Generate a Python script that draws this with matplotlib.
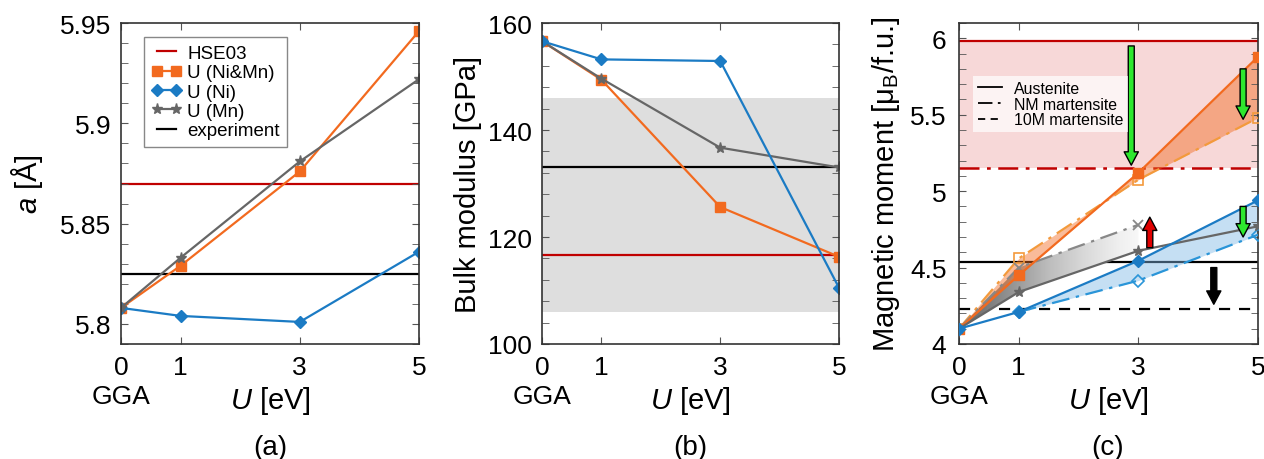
import numpy as np
import matplotlib
matplotlib.use('Agg')
from matplotlib import pyplot as plt
from matplotlib.ticker import MultipleLocator

plt.rcParams['font.family'] = ['Liberation Sans', 'DejaVu Sans']
plt.rcParams['mathtext.fontset'] = 'custom'
plt.rcParams['mathtext.rm'] = 'Liberation Sans'
plt.rcParams['mathtext.it'] = 'Liberation Sans:italic'

# U values [eV]
u = [0, 1, 3, 5]
u_tick_labels = ['0', '1', '3', '5']

# (a) lattice constant [A]
lat_nimn = [5.808, 5.829, 5.876, 5.946]
lat_ni = [5.808, 5.804, 5.801, 5.836]
lat_mn = [5.808, 5.833, 5.881, 5.922]
lat_hse = 5.870
lat_exp = 5.825

# (b) bulk modulus [GPa]
bulk_nimn = [156.6, 149.4, 125.6, 116.3]
bulk_ni = [156.6, 153.2, 152.9, 110.5]
bulk_mn = [156.6, 149.6, 136.7, 133.0]
bulk_hse = 116.7
bulk_exp = 133.0
bulk_exp_band = [106.0, 146.0]

# (c) magnetic moment [muB/f.u.]
mag_nimn_aus = [4.10, 4.45, 5.12, 5.88]
mag_nimn_nm = [4.10, 4.56, 5.075, 5.48]
mag_ni_aus = [4.10, 4.21, 4.545, 4.94]
u_ni_nm = [1, 3, 5]
mag_ni_nm = [4.21, 4.415, 4.715]
mag_mn_aus = [4.10, 4.34, 4.61, 4.77]
u_mn_nm = [0, 1, 3]
mag_mn_nm = [4.10, 4.50, 4.78]
mag_hse_aus = 5.98
mag_hse_nm = 5.15
mag_exp_aus = 4.535
mag_exp_10m = 4.23

# arrows in (c): x, y_start, y_end, colour
arrows = [
    (2.88, 5.95, 5.17, '#2ee82e'),
    (4.75, 5.80, 5.47, '#2ee82e'),
    (4.75, 4.90, 4.70, '#2ee82e'),
    (3.19, 4.63, 4.83, '#e00000'),
    (4.26, 4.50, 4.26, 'black'),
]

ORANGE = '#f26a1f'
ORANGE_NM = '#f39a3c'
BLUE = '#1b7bc4'
BLUE_NM = '#2a95d8'
GRAY = '#666666'
RED = '#c00000'

FS = 19       # tick labels
FS_LAB = 21   # axis labels
DASHDOT = (0, (8, 3, 1.5, 3))


def style_axes(ax, ylim, major, minor):
    ax.set_xlim(0, 5)
    ax.set_ylim(*ylim)
    ax.set_xticks(u)
    ax.set_xticklabels(u_tick_labels)
    ax.yaxis.set_major_locator(MultipleLocator(major))
    ax.yaxis.set_minor_locator(MultipleLocator(minor))
    ax.tick_params(which='both', direction='in', top=True, right=True,
                   labelsize=FS, color='#555555', length=5)
    ax.tick_params(axis='x', pad=8)
    ax.tick_params(axis='y', pad=7)
    for sp in ax.spines.values():
        sp.set_linewidth(1.2)
        sp.set_color('#333333')
    ax.set_xlabel('$U$ [eV]', fontsize=FS_LAB)
    ax.xaxis.set_label_coords(0.5, -0.125)
    # "GGA" sits under the U = 0 tick
    ax.text(0, -0.125, 'GGA', fontsize=FS, ha='center', va='top',
            transform=ax.get_xaxis_transform())


fig = plt.figure(figsize=(12.64, 4.6), dpi=100)
ax_a = fig.add_axes([0.0957, 0.25, 0.2358, 0.6978])
ax_b = fig.add_axes([0.4288, 0.25, 0.2350, 0.6978])
ax_c = fig.add_axes([0.7587, 0.25, 0.2366, 0.6978])

# ---- (a) lattice constant
ax_a.axhline(lat_hse, color=RED, lw=1.6, label='HSE03', zorder=1)
ax_a.plot(u, lat_nimn, color=ORANGE, lw=1.6, marker='s', ms=7.5, label='U (Ni&Mn)')
ax_a.plot(u, lat_ni, color=BLUE, lw=1.6, marker='D', ms=6.5, label='U (Ni)')
ax_a.plot(u, lat_mn, color=GRAY, lw=1.6, marker='*', ms=8, label='U (Mn)')
ax_a.axhline(lat_exp, color='black', lw=1.6, label='experiment', zorder=1)
style_axes(ax_a, (5.79, 5.95), 0.05, 0.01)
ax_a.set_yticks([5.8, 5.85, 5.9, 5.95])
ax_a.set_yticklabels(['5.8', '5.85', '5.9', '5.95'])
ax_a.set_ylabel('$a$ [Å]', fontsize=FS_LAB)
ax_a.yaxis.set_label_coords(-0.255, 0.5)
leg = ax_a.legend(loc='upper left', bbox_to_anchor=(0.077, 0.956), borderaxespad=0,
                  fontsize=13.5, numpoints=2, handlelength=1.6, handletextpad=0.3,
                  labelspacing=0.12, fancybox=False, edgecolor='#888888',
                  framealpha=1, borderpad=0.4)
leg.get_frame().set_linewidth(1.0)

# ---- (b) bulk modulus
ax_b.axhspan(*bulk_exp_band, color='#dedede', lw=0, zorder=0)
ax_b.axhline(bulk_hse, color=RED, lw=1.6, zorder=1)
ax_b.axhline(bulk_exp, color='black', lw=1.6, zorder=1)
ax_b.plot(u, bulk_nimn, color=ORANGE, lw=1.6, marker='s', ms=7.5)
ax_b.plot(u, bulk_mn, color=GRAY, lw=1.6, marker='*', ms=8)
ax_b.plot(u, bulk_ni, color=BLUE, lw=1.6, marker='D', ms=6.5)
style_axes(ax_b, (100, 160), 20, 4)
ax_b.set_ylabel('Bulk modulus [GPa]', fontsize=FS_LAB)
ax_b.yaxis.set_label_coords(-0.202, 0.5)

# ---- (c) magnetic moment
ax_c.axhspan(mag_hse_nm, mag_hse_aus, color='#f7d8d8', lw=0, zorder=0)
ax_c.axhline(mag_hse_aus, color=RED, lw=1.6, zorder=1)
ax_c.axhline(mag_hse_nm, color=RED, lw=1.8, ls=DASHDOT, zorder=1)
ax_c.axhline(mag_exp_aus, color='black', lw=1.6, zorder=1)
ax_c.axhline(mag_exp_10m, color='black', lw=1.6, ls=(0, (5, 4)), zorder=1)

ax_c.fill_between(u, mag_nimn_aus, mag_nimn_nm, color=ORANGE, alpha=0.45, lw=0, zorder=1.5)
ni_aus_on_nm = np.interp(u_ni_nm, u, mag_ni_aus)
ax_c.fill_between(u_ni_nm, ni_aus_on_nm, mag_ni_nm, color='#7fb8e6', alpha=0.45, lw=0, zorder=1.5)

# gray gradient fill between Mn austenite and Mn NM martensite
mn_aus_on_nm = np.interp(u_mn_nm, u, mag_mn_aus)
poly = ax_c.fill_between(u_mn_nm, mn_aus_on_nm, mag_mn_nm, facecolor='none', lw=0)
grad = np.linspace(1, 0, 256).reshape(1, -1)
im = ax_c.imshow(grad, extent=[u_mn_nm[0], u_mn_nm[-1], 4.0, 5.0], aspect='auto',
                 cmap='Greys', vmin=-0.1, vmax=1.5, zorder=1.4, interpolation='bilinear')
im.set_clip_path(poly.get_paths()[0], transform=ax_c.transData)

ax_c.plot(u, mag_nimn_nm, color=ORANGE_NM, lw=1.6, ls=DASHDOT, marker='s',
          ms=7.5, mfc='none', mew=1.2, zorder=3)
ax_c.plot(u_mn_nm, mag_mn_nm, color='#888888', lw=1.6, ls=DASHDOT, marker='x',
          ms=6.5, mew=1.3, zorder=3)
ax_c.plot(u_ni_nm, mag_ni_nm, color=BLUE_NM, lw=1.6, ls=DASHDOT, marker='D',
          ms=6, mfc='none', mew=1.2, zorder=3)
ax_c.plot(u, mag_nimn_aus, color=ORANGE, lw=1.6, marker='s', ms=7.5, zorder=4)
ax_c.plot(u, mag_mn_aus, color=GRAY, lw=1.6, marker='*', ms=8, zorder=4)
ax_c.plot(u, mag_ni_aus, color=BLUE, lw=1.6, marker='D', ms=6.5, zorder=4)

for x, y0, y1, col in arrows:
    ax_c.annotate('', xy=(x, y1), xytext=(x, y0),
                  arrowprops=dict(arrowstyle='simple,head_length=0.8,head_width=0.85,tail_width=0.36',
                                  fc=col, ec='black', lw=1.0, mutation_scale=12,
                                  shrinkA=0, shrinkB=0), zorder=5)

style_axes(ax_c, (4.0, 6.1), 0.5, 0.1)
ax_c.tick_params(axis='y', pad=9)
ax_c.set_yticks([4, 4.5, 5, 5.5, 6])
ax_c.set_yticklabels(['4', '4.5', '5', '5.5', '6'])
ax_c.set_ylabel('Magnetic moment [μ$_\\mathrm{B}$/f.u.]', fontsize=FS_LAB)
ax_c.yaxis.set_label_coords(-0.19, 0.5)

h_aus, = ax_c.plot([], [], color='black', lw=1.3, label='Austenite')
h_nm, = ax_c.plot([], [], color='black', lw=1.3, ls=DASHDOT, label='NM martensite')
h_10m, = ax_c.plot([], [], color='black', lw=1.3, ls=(0, (4, 3)), label='10M martensite')
leg_c = ax_c.legend(handles=[h_aus, h_nm, h_10m], loc='upper left',
                    bbox_to_anchor=(0.047, 0.835), borderaxespad=0, fontsize=11.4,
                    handlelength=1.5, handletextpad=0.8, labelspacing=0.05,
                    frameon=True, fancybox=False, framealpha=0.7, borderpad=0.3)
leg_c.get_frame().set_linewidth(0)

for x, lab in [(270, '(a)'), (690, '(b)'), (1108, '(c)')]:
    fig.text(x / 1264, 12 / 460, lab, fontsize=20, ha='center', va='center')

fig.savefig('out.png', dpi=100)
